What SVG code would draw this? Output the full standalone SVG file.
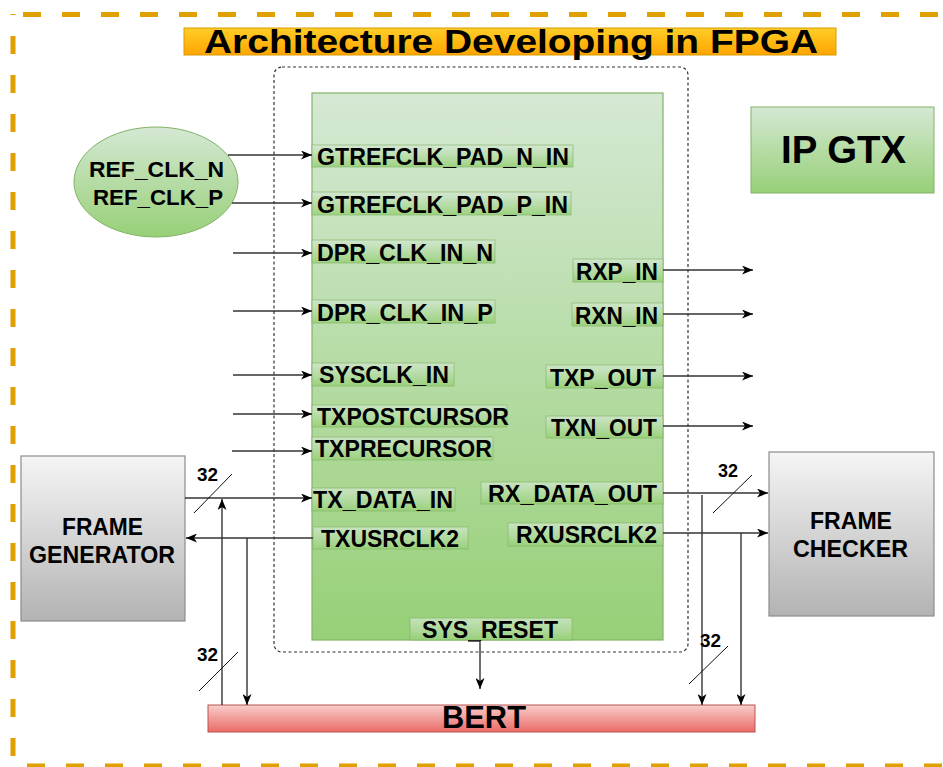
<svg xmlns="http://www.w3.org/2000/svg" width="943" height="767" viewBox="0 0 943 767">
  <style>
    text { font-family: "Liberation Sans", Arial, Helvetica, sans-serif; font-weight: bold; fill: #000; }
    .port rect { fill: url(#gPort); stroke: #82b366; stroke-opacity: 0.6; stroke-width: 1; }
    .port text { font-size: 23px; }
    .wire { fill: none; stroke: #333; stroke-width: 1.4; }
    .slash { fill: none; stroke: #111; stroke-width: 1; }
    .bus { font-size: 18px; }
    .edge { fill: none; stroke: #E0A000; stroke-width: 5; stroke-dasharray: 18 21; }
  </style>
  <defs>
    <linearGradient id="gGreen" x1="0" y1="0" x2="0" y2="1">
      <stop offset="0" stop-color="#d5e8d4"/>
      <stop offset="1" stop-color="#97d077"/>
    </linearGradient>
    <linearGradient id="gPort" x1="0" y1="0" x2="0" y2="1">
      <stop offset="0" stop-color="#d5e8d4" stop-opacity="0.7"/>
      <stop offset="1" stop-color="#97d077" stop-opacity="0.9"/>
    </linearGradient>
    <linearGradient id="gGray" x1="0" y1="0" x2="0" y2="1">
      <stop offset="0" stop-color="#f5f5f5"/>
      <stop offset="1" stop-color="#b3b3b3"/>
    </linearGradient>
    <linearGradient id="gRed" x1="0" y1="0" x2="0" y2="1">
      <stop offset="0" stop-color="#f8cecc"/>
      <stop offset="1" stop-color="#ea6b66"/>
    </linearGradient>
    <linearGradient id="gOrange" x1="0" y1="0" x2="0" y2="1">
      <stop offset="0" stop-color="#ffcd28"/>
      <stop offset="1" stop-color="#ffa500"/>
    </linearGradient>
    <marker id="arr" viewBox="0 0 11 9" refX="11" refY="4.5" markerWidth="11" markerHeight="9" markerUnits="userSpaceOnUse" orient="auto">
      <path d="M0,0 L11,4.5 L0,9 L3,4.5 Z" fill="#000"/>
    </marker>
  </defs>

  <rect width="943" height="767" fill="#fff"/>

  <!-- outer dashed frame -->
  <g id="frame">
    <path class="edge" d="M13,14.5 H943" stroke-dashoffset="29"/>
    <path class="edge" d="M13,14 V766" stroke-dasharray="19 20" stroke-dashoffset="17"/>
    <path class="edge" d="M13,766 H943" stroke-dashoffset="25"/>
  </g>

  <!-- title -->
  <g id="title">
    <rect x="184" y="28" width="652" height="27" fill="url(#gOrange)" stroke="#d79b00" stroke-width="1"/>
    <text x="204" y="53" font-size="34" textLength="614" lengthAdjust="spacingAndGlyphs">Architecture Developing in FPGA</text>
  </g>

  <!-- FPGA boundary -->
  <g id="fpga">
    <rect x="274" y="67" width="414" height="585" rx="8" fill="none" stroke="#333" stroke-width="1.2" stroke-dasharray="3 2.5"/>
  </g>

  <!-- GTX core -->
  <g id="gtx">
    <rect x="312" y="93" width="351" height="547" fill="url(#gGreen)" stroke="#82b366" stroke-width="1.2"/>
  </g>

  <g id="ip-gtx">
    <rect x="751" y="107" width="183" height="86" fill="url(#gGreen)" stroke="#82b366" stroke-width="1"/>
    <text x="781" y="163" font-size="39" textLength="125" lengthAdjust="spacingAndGlyphs">IP GTX</text>
  </g>

  <!-- GTX ports -->
  <g id="p-gtrefclk-n" class="port"><rect x="312" y="145" width="261" height="22"/><text x="317" y="165" textLength="252" lengthAdjust="spacingAndGlyphs">GTREFCLK_PAD_N_IN</text></g>
  <g id="p-gtrefclk-p" class="port"><rect x="312" y="192" width="259" height="23"/><text x="317" y="213" textLength="251" lengthAdjust="spacingAndGlyphs">GTREFCLK_PAD_P_IN</text></g>
  <g id="p-dpr-n" class="port"><rect x="312" y="240" width="183" height="23"/><text x="317" y="261" textLength="176" lengthAdjust="spacingAndGlyphs">DPR_CLK_IN_N</text></g>
  <g id="p-dpr-p" class="port"><rect x="312" y="300" width="183" height="23"/><text x="317" y="321" textLength="176" lengthAdjust="spacingAndGlyphs">DPR_CLK_IN_P</text></g>
  <g id="p-sysclk" class="port"><rect x="312" y="363" width="142" height="23"/><text x="319" y="383" textLength="130" lengthAdjust="spacingAndGlyphs">SYSCLK_IN</text></g>
  <g id="p-txpost" class="port"><rect x="312" y="405" width="195" height="22"/><text x="317" y="425" textLength="192" lengthAdjust="spacingAndGlyphs">TXPOSTCURSOR</text></g>
  <g id="p-txpre" class="port"><rect x="312" y="437" width="181" height="23"/><text x="315" y="457" textLength="177" lengthAdjust="spacingAndGlyphs">TXPRECURSOR</text></g>
  <g id="p-txdata" class="port"><rect x="312" y="488" width="143" height="23"/><text x="313" y="508" textLength="140" lengthAdjust="spacingAndGlyphs">TX_DATA_IN</text></g>
  <g id="p-txusrclk" class="port"><rect x="313" y="527" width="155" height="22"/><text x="321" y="547" textLength="138" lengthAdjust="spacingAndGlyphs">TXUSRCLK2</text></g>
  <g id="p-rxp" class="port"><rect x="573" y="259" width="90" height="23"/><text x="576" y="280" textLength="82" lengthAdjust="spacingAndGlyphs">RXP_IN</text></g>
  <g id="p-rxn" class="port"><rect x="572" y="303" width="91" height="23"/><text x="575" y="324" textLength="83" lengthAdjust="spacingAndGlyphs">RXN_IN</text></g>
  <g id="p-txp" class="port"><rect x="546" y="365" width="117" height="23"/><text x="550" y="386" textLength="106" lengthAdjust="spacingAndGlyphs">TXP_OUT</text></g>
  <g id="p-txn" class="port"><rect x="546" y="416" width="117" height="22"/><text x="551" y="436" textLength="106" lengthAdjust="spacingAndGlyphs">TXN_OUT</text></g>
  <g id="p-rxdata" class="port"><rect x="481" y="482" width="182" height="22"/><text x="488" y="502" textLength="169" lengthAdjust="spacingAndGlyphs">RX_DATA_OUT</text></g>
  <g id="p-rxusrclk" class="port"><rect x="508" y="523" width="155" height="23"/><text x="516" y="543" textLength="141" lengthAdjust="spacingAndGlyphs">RXUSRCLK2</text></g>
  <g id="p-sysreset" class="port"><rect x="410" y="618" width="162" height="22"/><text x="422" y="638" textLength="136" lengthAdjust="spacingAndGlyphs">SYS_RESET</text></g>

  <!-- reference clock source -->
  <g id="refclk">
    <ellipse cx="156" cy="182" rx="82" ry="55" fill="url(#gGreen)" stroke="#82b366" stroke-width="1"/>
    <text x="89" y="177" font-size="22" textLength="135" lengthAdjust="spacingAndGlyphs">REF_CLK_N</text>
    <text x="93" y="205" font-size="22" textLength="130" lengthAdjust="spacingAndGlyphs">REF_CLK_P</text>
  </g>

  <g id="frame-generator">
    <rect x="21" y="456" width="164" height="165" fill="url(#gGray)" stroke="#8c8c8c" stroke-width="1.2"/>
    <text x="62" y="535" font-size="24" textLength="81" lengthAdjust="spacingAndGlyphs">FRAME</text>
    <text x="29" y="563" font-size="24" textLength="146" lengthAdjust="spacingAndGlyphs">GENERATOR</text>
  </g>

  <g id="frame-checker">
    <rect x="769" y="452" width="165" height="164" fill="url(#gGray)" stroke="#8c8c8c" stroke-width="1.2"/>
    <text x="810" y="529" font-size="24" textLength="82" lengthAdjust="spacingAndGlyphs">FRAME</text>
    <text x="793" y="557" font-size="24" textLength="115" lengthAdjust="spacingAndGlyphs">CHECKER</text>
  </g>

  <g id="bert">
    <rect x="208" y="705" width="547" height="27" fill="url(#gRed)" stroke="#b85450" stroke-width="1"/>
    <text x="442" y="728" font-size="31" textLength="84" lengthAdjust="spacingAndGlyphs">BERT</text>
  </g>

  <!-- connectors -->
  <g id="connectors">
    <!-- inputs on the left side -->
    <path class="wire" d="M228,155 H312" marker-end="url(#arr)"/>
    <path class="wire" d="M232,203 H312" marker-end="url(#arr)"/>
    <path class="wire" d="M233,253 H312" marker-end="url(#arr)"/>
    <path class="wire" d="M233,311 H312" marker-end="url(#arr)"/>
    <path class="wire" d="M233,375 H312" marker-end="url(#arr)"/>
    <path class="wire" d="M233,414 H312" marker-end="url(#arr)"/>
    <path class="wire" d="M232,451 H312" marker-end="url(#arr)"/>

    <!-- serial outputs on the right side -->
    <path class="wire" d="M663,270 H753" marker-end="url(#arr)"/>
    <path class="wire" d="M663,314 H753" marker-end="url(#arr)"/>
    <path class="wire" d="M663,376 H753" marker-end="url(#arr)"/>
    <path class="wire" d="M663,426 H753" marker-end="url(#arr)"/>

    <!-- transmit side -->
    <path class="wire" d="M185,498 H312" marker-end="url(#arr)"/>
    <path class="wire" d="M222,705 V499" marker-end="url(#arr)"/>
    <path class="wire" d="M313,538 H186" marker-end="url(#arr)"/>
    <path class="wire" d="M247,538 V705" marker-end="url(#arr)"/>

    <!-- receive side -->
    <path class="wire" d="M663,493 H768" marker-end="url(#arr)"/>
    <path class="wire" d="M663,533 H768" marker-end="url(#arr)"/>
    <path class="wire" d="M702,495 V705" marker-end="url(#arr)"/>
    <path class="wire" d="M741,533 V705" marker-end="url(#arr)"/>

    <!-- reset -->
    <path class="wire" d="M468,641 H480 V689" marker-end="url(#arr)"/>

    <!-- bus width marks -->
    <path class="slash" d="M194,513 L232,474"/>
    <path class="slash" d="M199,691 L238,652"/>
    <path class="slash" d="M713,513 L752,475"/>
    <path class="slash" d="M689,684 L728,646"/>
    <text class="bus" x="197" y="481" textLength="21" lengthAdjust="spacingAndGlyphs">32</text>
    <text class="bus" x="197" y="661" textLength="21" lengthAdjust="spacingAndGlyphs">32</text>
    <text class="bus" x="718" y="477" textLength="20" lengthAdjust="spacingAndGlyphs">32</text>
    <text class="bus" x="700" y="647" textLength="21" lengthAdjust="spacingAndGlyphs">32</text>
  </g>
</svg>
